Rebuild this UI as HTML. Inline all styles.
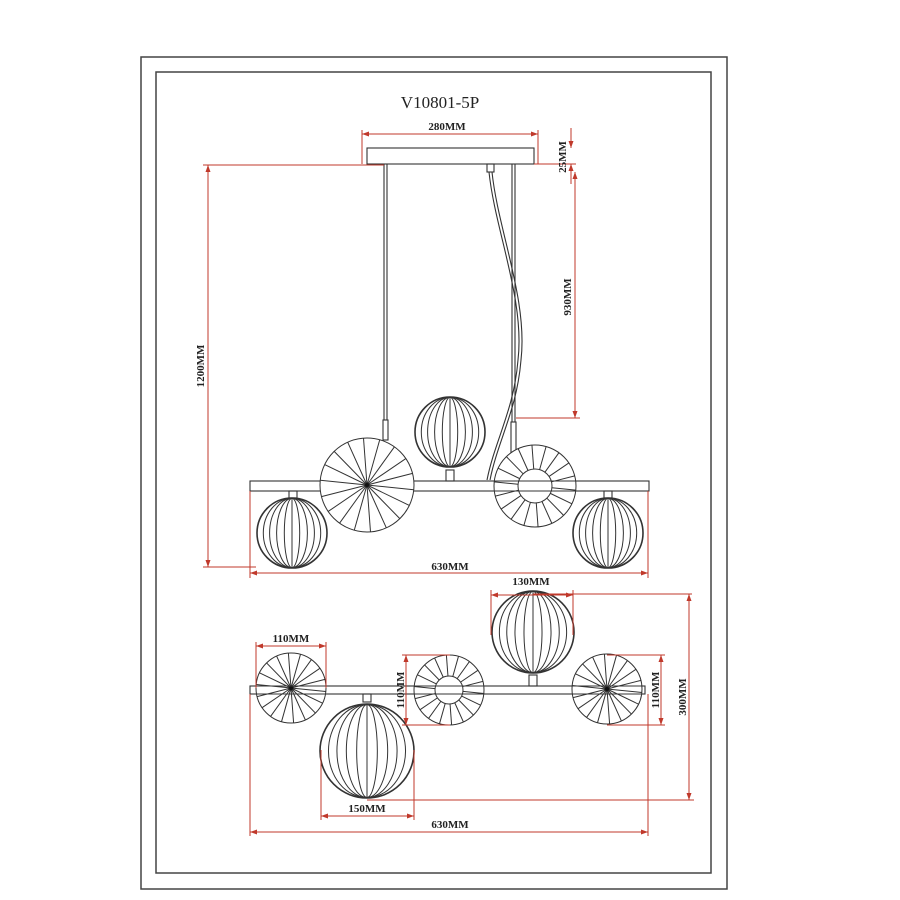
<!DOCTYPE html>
<html><head><meta charset="utf-8"><style>
html,body{margin:0;padding:0;background:#fff;}
svg{display:block;}
text{font-family:"Liberation Serif",serif;font-weight:bold;fill:#222;}
</style></head><body>
<svg id="s" width="900" height="900" viewBox="0 0 900 900" xmlns="http://www.w3.org/2000/svg">
<rect x="141" y="57" width="586" height="832" fill="none" stroke="#444" stroke-width="1.5"/>
<rect x="156" y="72" width="555" height="801" fill="none" stroke="#444" stroke-width="1.5"/>
<text x="440" y="108" text-anchor="middle" style="font-weight:normal;font-size:17px">V10801-5P</text>
<g id="blk" stroke="#333" fill="none" stroke-width="1.1">
<rect x="367" y="148" width="167" height="16"/>
<line x1="384" y1="164" x2="384" y2="420"/><line x1="387" y1="164" x2="387" y2="420"/>
<rect x="383" y="420" width="5" height="20"/>
<line x1="512" y1="164" x2="512" y2="422"/><line x1="515" y1="164" x2="515" y2="422"/>
<rect x="511" y="422" width="5" height="58"/>
<rect x="487" y="164" width="7" height="8"/>
<path d="M489 172 C495 230,525 300,518 360 C514 410,495 440,487 480"/>
<path d="M492 172 C498 230,528 300,521 360 C517 410,498 440,490 480"/>
<rect x="250" y="481" width="399" height="10" fill="#fff"/>
<rect x="446" y="470" width="8" height="11"/>
<rect x="289" y="491" width="8" height="7"/>
<rect x="604" y="491" width="8" height="7"/>
<rect x="250" y="686" width="395" height="8" fill="none"/>
<rect x="529" y="675" width="8" height="11"/>
<rect x="363" y="694" width="8" height="8"/>
</g>
<g id="dyn" stroke="#333" fill="none" stroke-width="1"></g>
<g stroke="#c0392b" fill="none" stroke-width="1" id="red">
<line x1="362" y1="134" x2="538" y2="134"/><line x1="362" y1="130" x2="362" y2="164"/><line x1="538" y1="130" x2="538" y2="164"/>
<line x1="571" y1="128" x2="571" y2="148"/><line x1="571" y1="164" x2="571" y2="184"/><line x1="534" y1="164" x2="576" y2="164"/>
<line x1="203" y1="165" x2="384" y2="165"/><line x1="208" y1="165" x2="208" y2="567"/><line x1="203" y1="567" x2="256" y2="567"/>
<line x1="575" y1="172" x2="575" y2="418"/><line x1="516" y1="418" x2="580" y2="418"/>
<line x1="250" y1="573" x2="648" y2="573"/><line x1="250" y1="491" x2="250" y2="578"/><line x1="648" y1="491" x2="648" y2="578"/>
<line x1="491" y1="595" x2="573" y2="595"/><line x1="491" y1="590" x2="491" y2="635"/><line x1="573" y1="590" x2="573" y2="635"/>
<line x1="533" y1="594" x2="692" y2="594"/>
<line x1="689" y1="594" x2="689" y2="800"/><line x1="367" y1="800" x2="694" y2="800"/>
<line x1="256" y1="646" x2="326" y2="646"/><line x1="256" y1="642" x2="256" y2="688"/><line x1="326" y1="642" x2="326" y2="688"/>
<line x1="406" y1="655" x2="406" y2="725"/><line x1="402" y1="655" x2="450" y2="655"/><line x1="402" y1="725" x2="450" y2="725"/>
<line x1="661" y1="655" x2="661" y2="725"/><line x1="607" y1="655" x2="665" y2="655"/><line x1="607" y1="725" x2="665" y2="725"/>
<line x1="321" y1="816" x2="414" y2="816"/><line x1="321" y1="750" x2="321" y2="820"/><line x1="414" y1="750" x2="414" y2="820"/>
<line x1="250" y1="832" x2="648" y2="832"/><line x1="250" y1="694" x2="250" y2="836"/><line x1="648" y1="694" x2="648" y2="836"/>
</g>
<g fill="#c0392b" id="arr"></g>
<g font-size="11">
<text x="447" y="130" text-anchor="middle">280MM</text>
<text x="450" y="570" text-anchor="middle">630MM</text>
<text x="531" y="585" text-anchor="middle">130MM</text>
<text x="291" y="642" text-anchor="middle">110MM</text>
<text x="367" y="812" text-anchor="middle">150MM</text>
<text x="450" y="828" text-anchor="middle">630MM</text>
<text transform="translate(566,157) rotate(-90)" text-anchor="middle">25MM</text>
<text transform="translate(204,366) rotate(-90)" text-anchor="middle">1200MM</text>
<text transform="translate(571,297) rotate(-90)" text-anchor="middle">930MM</text>
<text transform="translate(404,690) rotate(-90)" text-anchor="middle">110MM</text>
<text transform="translate(659,690) rotate(-90)" text-anchor="middle">110MM</text>
<text transform="translate(686,697) rotate(-90)" text-anchor="middle">300MM</text>
</g>
</svg>
<script>
var NS="http://www.w3.org/2000/svg",g=document.getElementById('dyn'),A=document.getElementById('arr');
function el(t,a,p){var e=document.createElementNS(NS,t);for(var k in a)e.setAttribute(k,a[k]);(p||g).appendChild(e);return e;}
function globe(cx,cy,r){el('circle',{cx:cx,cy:cy,r:r,fill:'#fff','stroke-width':1.6});
 [0.22,0.44,0.64,0.82].forEach(function(k){el('ellipse',{cx:cx,cy:cy,rx:r*k,ry:r*0.99});});
 el('line',{x1:cx,y1:cy-r,x2:cx,y2:cy+r});}
function disc(cx,cy,r,inner){el('circle',{cx:cx,cy:cy,r:r,fill:'#fff'});
 var n=18;for(var i=0;i<n;i++){var a=i*2*Math.PI/n+0.1,r0=inner||0;
 el('line',{x1:cx+r0*Math.cos(a),y1:cy+r0*Math.sin(a),x2:cx+r*Math.cos(a),y2:cy+r*Math.sin(a)});}
 if(inner)el('circle',{cx:cx,cy:cy,r:inner,fill:'#fff'});else el('circle',{cx:cx,cy:cy,r:2.5,fill:'#111'});}
globe(292,533,35);globe(608,533,35);globe(450,432,35);
disc(535,486,41,17);
el('line',{x1:250,y1:481,x2:649,y2:481});el('line',{x1:250,y1:491,x2:649,y2:491});
disc(367,485,47);
disc(291,688,35);disc(449,690,35,14);disc(607,689,35);
globe(533,632,41);globe(367,751,47);
el('line',{x1:250,y1:686,x2:645,y2:686});el('line',{x1:250,y1:694,x2:645,y2:694});
function ar(x,y,d){var s=7,w=2.5,p;
 if(d=='l')p=[x,y,x+s,y-w,x+s,y+w];if(d=='r')p=[x,y,x-s,y-w,x-s,y+w];
 if(d=='u')p=[x,y,x-w,y+s,x+w,y+s];if(d=='d')p=[x,y,x-w,y-s,x+w,y-s];
 el('polygon',{points:p.join(' ')},A);}
function h(x1,x2,y){ar(x1,y,'l');ar(x2,y,'r');}function v(x,y1,y2){ar(x,y1,'u');ar(x,y2,'d');}
h(362,538,134);v(208,165,567);v(575,172,418);h(250,648,573);h(491,573,595);h(256,326,646);
v(406,655,725);v(661,655,725);v(689,594,800);h(321,414,816);h(250,648,832);
ar(571,148,'d');ar(571,164,'u');
</script>
</body></html>
